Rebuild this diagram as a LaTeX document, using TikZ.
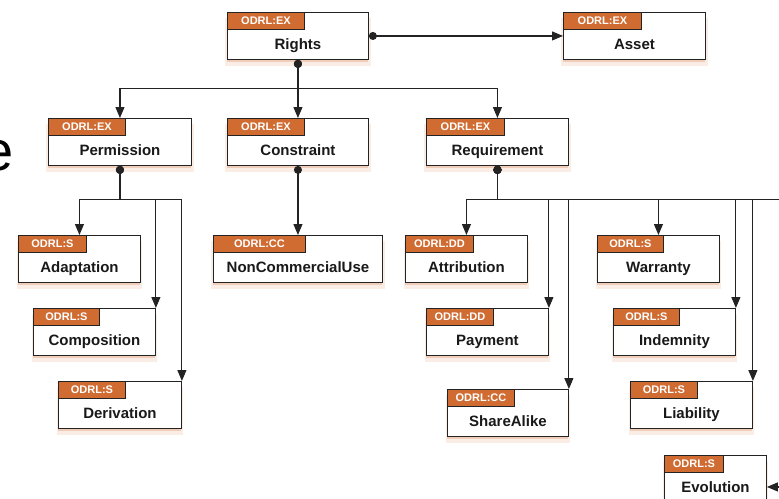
\documentclass[tikz,border=0pt]{standalone}
\usepackage{fontspec}
\setmainfont{Liberation Sans}
\usetikzlibrary{arrows.meta,shadows}

\definecolor{odrlorange}{RGB}{208,108,50}
\definecolor{odrlline}{RGB}{35,35,35}

\tikzset{
  odrlbox/.style={draw=odrlline, line width=0.9pt, fill=white, anchor=north west, inner sep=0pt,
    minimum height=47pt, text height=31pt, text depth=4pt, text=black!90,
    font=\bfseries\fontsize{15}{18}\selectfont,
    drop shadow={shadow xshift=0pt, shadow yshift=-6pt, shadow scale=1.03, fill=odrlorange, opacity=0.12},
    drop shadow={shadow xshift=0pt, shadow yshift=-3pt, fill=odrlorange, opacity=0.25}},
  odrltag/.style={draw=odrlline, line width=0.9pt, fill=odrlorange, text=white, anchor=north west,
    inner sep=0pt, minimum height=17pt, font=\bfseries\fontsize{11}{12}\selectfont},
  link/.style={draw=odrlline, line width=1.1pt, {Circle[length=8pt]}-{Triangle[length=11pt,width=9pt]}},
}

\begin{document}
\begin{tikzpicture}[x=1pt,y=-1pt]
\useasboundingbox (0,0) rectangle (779,498);
\node[anchor=base east, inner sep=0pt, font=\fontsize{56}{60}\selectfont] (title) at (14,170) {e};

\node[odrlbox, minimum width=141pt] (rights) at (227,12) {Rights};
\node[odrlbox, minimum width=142pt] (asset) at (563,12) {Asset};
\node[odrlbox, minimum width=143pt] (permission) at (48,118) {Permission};
\node[odrlbox, minimum width=141pt] (constraint) at (227,118) {Constraint};
\node[odrlbox, minimum width=142pt] (requirement) at (426,118) {Requirement};
\node[odrlbox, minimum width=122pt] (adaptation) at (18,235) {Adaptation};
\node[odrlbox, minimum width=122pt] (composition) at (33,308) {Composition};
\node[odrlbox, minimum width=123pt] (derivation) at (58,381) {Derivation};
\node[odrlbox, minimum width=169pt] (noncommercial) at (213,235) {NonCommercialUse};
\node[odrlbox, minimum width=122pt] (attribution) at (405,235) {Attribution};
\node[odrlbox, minimum width=122pt] (payment) at (426,308) {Payment};
\node[odrlbox, minimum width=121pt] (sharealike) at (447,389) {ShareAlike};
\node[odrlbox, minimum width=122pt] (warranty) at (597,235) {Warranty};
\node[odrlbox, minimum width=122pt] (indemnity) at (613,308) {Indemnity};
\node[odrlbox, minimum width=122pt] (liability) at (630,381) {Liability};
\node[odrlbox, minimum width=102pt] (evolution) at (664,455) {Evolution};

\node[odrltag, minimum width=77pt] (rights-tag) at (rights.north west) {ODRL:EX};
\node[odrltag, minimum width=78pt] (asset-tag) at (asset.north west) {ODRL:EX};
\node[odrltag, minimum width=77pt] (permission-tag) at (permission.north west) {ODRL:EX};
\node[odrltag, minimum width=77pt] (constraint-tag) at (constraint.north west) {ODRL:EX};
\node[odrltag, minimum width=78pt] (requirement-tag) at (requirement.north west) {ODRL:EX};
\node[odrltag, minimum width=68pt] (adaptation-tag) at (adaptation.north west) {ODRL:S};
\node[odrltag, minimum width=66pt] (composition-tag) at (composition.north west) {ODRL:S};
\node[odrltag, minimum width=67pt] (derivation-tag) at (derivation.north west) {ODRL:S};
\node[odrltag, minimum width=92pt] (noncommercial-tag) at (noncommercial.north west) {ODRL:CC};
\node[odrltag, minimum width=68pt] (attribution-tag) at (attribution.north west) {ODRL:DD};
\node[odrltag, minimum width=67pt] (payment-tag) at (payment.north west) {ODRL:DD};
\node[odrltag, minimum width=67pt] (sharealike-tag) at (sharealike.north west) {ODRL:CC};
\node[odrltag, minimum width=66pt] (warranty-tag) at (warranty.north west) {ODRL:S};
\node[odrltag, minimum width=66pt] (indemnity-tag) at (indemnity.north west) {ODRL:S};
\node[odrltag, minimum width=67pt] (liability-tag) at (liability.north west) {ODRL:S};
\node[odrltag, minimum width=59pt] (evolution-tag) at (evolution.north west) {ODRL:S};

\coordinate (evolution-turn) at ([xshift=24pt,yshift=-8pt]evolution.east);

\draw[link] (rights.east) -- (asset.west);
\draw[link] (rights.south) -- ++(0,29) -| (permission.north);
\draw[link] (rights.south) -- (constraint.north);
\draw[link] (rights.south) -- ++(0,29) -| (requirement.north);
\draw[link] (permission.south) -- ++(0,34) -| (adaptation.north);
\draw[link] (permission.south) -- ++(0,34) -| (composition.north east);
\draw[link] (permission.south) -- ++(0,34) -| (derivation.north east);
\draw[link] (constraint.south) -- (noncommercial.north);
\draw[link] (requirement.south) -- ++(0,34) -| (attribution.north);
\draw[link] (requirement.south) -- ++(0,34) -| (payment.north east);
\draw[link] (requirement.south) -- ++(0,34) -| (sharealike.north east);
\draw[link] (requirement.south) -- ++(0,34) -| (warranty.north);
\draw[link] (requirement.south) -- ++(0,34) -| (indemnity.north east);
\draw[link] (requirement.south) -- ++(0,34) -| (liability.north east);
\draw[link] (requirement.south) -- ++(0,34) -| (evolution-turn) -- ([yshift=-8pt]evolution.east);
\end{tikzpicture}
\end{document}
